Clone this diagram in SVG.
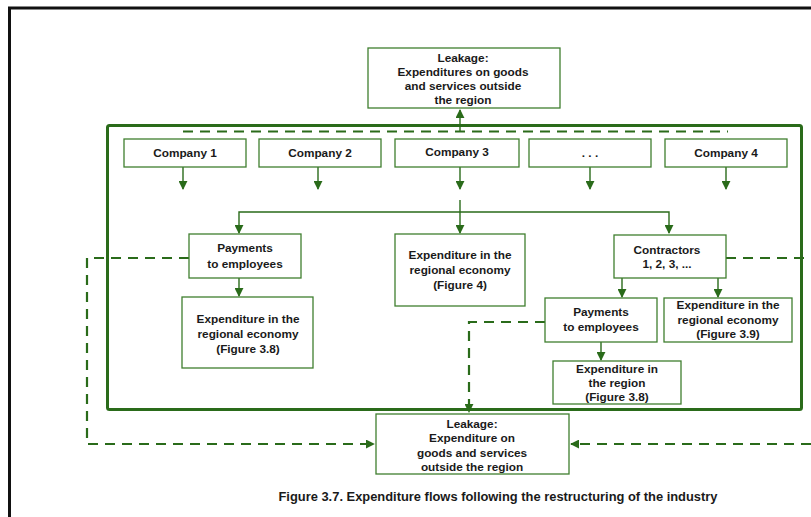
<svg xmlns="http://www.w3.org/2000/svg" width="811" height="517" viewBox="0 0 811 517">
  <defs>
    <style>
      .box { fill: #ffffff; stroke: #3f7f2f; stroke-width: 1.3; }
      .frame { fill: none; stroke: #2a6b1a; stroke-width: 3; }
      .solid { fill: none; stroke: #2a6b1a; stroke-width: 1.4; }
      .dash { fill: none; stroke: #2a6b1a; stroke-width: 2.2; stroke-dasharray: 10 7; }
      text { font-family: "Liberation Sans", Arial, sans-serif; font-weight: bold; font-size: 11.8px; fill: #1a1a1a; text-anchor: middle; }
      .cap { font-size: 12.9px; }
    </style>
    <marker id="arr" viewBox="0 0 10 10" refX="9" refY="5" markerWidth="9" markerHeight="9" markerUnits="userSpaceOnUse" orient="auto">
      <path d="M0,0 L10,5 L0,10 Z" fill="#2a6b1a"/>
    </marker>
  </defs>

  <!-- page frame -->
  <path d="M9.5,517 V8 H811" fill="none" stroke="#111111" stroke-width="3"/>

  <!-- industry boundary -->
  <rect class="frame" x="107.5" y="125.5" width="694" height="284" rx="2"/>

  <g id="connectors">
    <!-- leakage upward from the companies -->
    <path class="dash" d="M183,131.5 H728"/>
    <path class="solid" d="M460,131 V110" marker-end="url(#arr)"/>
    <!-- company outputs -->
    <path class="solid" d="M183,167 V189" marker-end="url(#arr)"/>
    <path class="solid" d="M318,167 V189" marker-end="url(#arr)"/>
    <path class="solid" d="M460,167 V189" marker-end="url(#arr)"/>
    <path class="solid" d="M590,167 V189" marker-end="url(#arr)"/>
    <path class="solid" d="M726,167 V189" marker-end="url(#arr)"/>
    <!-- distribution -->
    <path class="solid" d="M460,212 H239 V233" marker-end="url(#arr)"/>
    <path class="solid" d="M460,212 H669 V233" marker-end="url(#arr)"/>
    <path class="solid" d="M460,200 V233" marker-end="url(#arr)"/>
    <path class="solid" d="M239,278 V296" marker-end="url(#arr)"/>
    <path class="solid" d="M622,278 V297" marker-end="url(#arr)"/>
    <path class="solid" d="M718,278 V297" marker-end="url(#arr)"/>
    <path class="solid" d="M601,342 V360" marker-end="url(#arr)"/>
    <!-- leakage downward -->
    <path class="dash" d="M189,258 H87 V444 H374" marker-end="url(#arr)"/>
    <path class="dash" d="M545,322 H469 V412" marker-end="url(#arr)"/>
    <path class="dash" d="M726,258 H811"/>
    <path class="dash" d="M811,444 H571" marker-end="url(#arr)"/>
  </g>

  <g id="leak-top">
    <rect class="box" x="368" y="48" width="192" height="60"/>
    <text x="463" y="62">Leakage:</text>
    <text x="463" y="76">Expenditures on goods</text>
    <text x="463" y="90">and services outside</text>
    <text x="463" y="104">the region</text>
  </g>

  <g id="company1">
    <rect class="box" x="124" y="139" width="122" height="28"/>
    <text x="185" y="157">Company 1</text>
  </g>
  <g id="company2">
    <rect class="box" x="259" y="139" width="122" height="28"/>
    <text x="320" y="157">Company 2</text>
  </g>
  <g id="company3">
    <rect class="box" x="395" y="139" width="124" height="28"/>
    <text x="457" y="156">Company 3</text>
  </g>
  <g id="company-more">
    <rect class="box" x="529" y="139" width="122" height="28"/>
    <text x="590" y="157">. . .</text>
  </g>
  <g id="company4">
    <rect class="box" x="665" y="139" width="122" height="28"/>
    <text x="726" y="157">Company 4</text>
  </g>

  <g id="pay-left">
    <rect class="box" x="189" y="234" width="112" height="44"/>
    <text x="245" y="252">Payments</text>
    <text x="245" y="268">to employees</text>
  </g>
  <g id="exp-38-left">
    <rect class="box" x="182" y="297" width="131" height="71"/>
    <text x="248" y="323">Expenditure in the</text>
    <text x="248" y="338">regional economy</text>
    <text x="248" y="353">(Figure 3.8)</text>
  </g>
  <g id="exp-4">
    <rect class="box" x="395" y="234" width="130" height="72"/>
    <text x="460" y="259">Expenditure in the</text>
    <text x="460" y="274">regional economy</text>
    <text x="460" y="289">(Figure 4)</text>
  </g>
  <g id="contractors">
    <rect class="box" x="614" y="235" width="112" height="43"/>
    <text x="667" y="254">Contractors</text>
    <text x="667" y="268">1, 2, 3, ...</text>
  </g>
  <g id="pay-right">
    <rect class="box" x="545" y="298" width="112" height="44"/>
    <text x="601" y="316">Payments</text>
    <text x="601" y="331">to employees</text>
  </g>
  <g id="exp-39">
    <rect class="box" x="664" y="298" width="128" height="44"/>
    <text x="728" y="309">Expenditure in the</text>
    <text x="728" y="324">regional economy</text>
    <text x="728" y="338">(Figure 3.9)</text>
  </g>
  <g id="exp-38-right">
    <rect class="box" x="553" y="361" width="128" height="43"/>
    <text x="617" y="373">Expenditure in</text>
    <text x="617" y="387">the region</text>
    <text x="617" y="401">(Figure 3.8)</text>
  </g>
  <g id="leak-bottom">
    <rect class="box" x="376" y="414" width="193" height="60"/>
    <text x="472" y="428">Leakage:</text>
    <text x="472" y="442">Expenditure on</text>
    <text x="472" y="457">goods and services</text>
    <text x="472" y="471">outside the region</text>
  </g>

  <text class="cap" x="498" y="501">Figure 3.7. Expenditure flows following the restructuring of the industry</text>
</svg>
